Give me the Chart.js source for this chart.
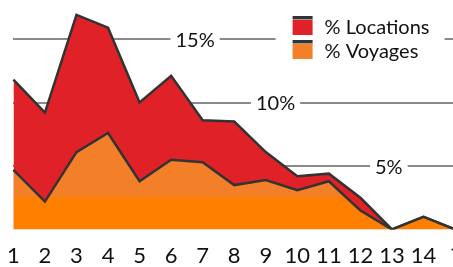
<!DOCTYPE html>
<html><head><meta charset="utf-8">
<script src="https://cdn.jsdelivr.net/npm/chart.js@4.4.1/dist/chart.umd.min.js"></script>
<style>html,body{margin:0;padding:0;overflow:hidden;background:#fff}#wrap{width:479px;height:267px;position:relative;margin-left:-6px}</style>
</head><body><div id="wrap"><canvas id="c"></canvas></div>
<script>
const categories = ['1','2','3','4','5','6','7','8','9','10','11','12','13','14','?'];
const locations = [11.8, 9.2, 16.9, 15.9, 10.0, 12.1, 8.6, 8.5, 6.1, 4.2, 4.4, 2.5, 0, 1.0, 0];
const voyages   = [4.7, 2.2, 6.1, 7.6, 3.8, 5.5, 5.3, 3.5, 3.9, 3.1, 3.8, 1.5, 0, 1.0, 0];
const gridValues = [5, 10, 15];
const gridLabels = ['5%', '10%', '15%'];
const seriesNames = ['% Locations', '% Voyages'];

const RED = '#E02228', ORANGE_HI = '#F37F28', ORANGE_LO = '#FF8000', LINE = '#333333';
const FONT = 'Lato, "Open Sans", sans-serif';

const gridLabelPlugin = {
  id: 'gridLabels',
  beforeDatasetsDraw(chart, args, opts) {
    const ctx = chart.ctx, ys = chart.scales.y, xs = chart.scales.x;
    const step = xs.getPixelForValue(1) - xs.getPixelForValue(0);
    ctx.save();
    ctx.font = '20px ' + FONT;
    ctx.textAlign = 'center';
    ctx.textBaseline = 'alphabetic';
    gridValues.forEach((v, i) => {
      const py = ys.getPixelForValue(v);
      const px = xs.getPixelForValue(0) + opts.at[i] * step;
      const w = ctx.measureText(gridLabels[i]).width;
      ctx.fillStyle = '#fff';
      ctx.fillRect(px - w / 2 - 5, py - 3, w + 10, 6);
      ctx.fillStyle = '#111';
      ctx.fillText(gridLabels[i], px, py + 7.5);
    });
    ctx.restore();
  }
};

const legendPlugin = {
  id: 'customLegend',
  afterDraw(chart) {
    const ctx = chart.ctx, xs = chart.scales.x, ca = chart.chartArea;
    const step = xs.getPixelForValue(1) - xs.getPixelForValue(0);
    const left = xs.getPixelForValue(0) + 8.85 * step;
    const top = ca.top + 15;
    ctx.save();
    ctx.fillStyle = '#fff';
    ctx.fillRect(left - 17, top - 6, 169, 54);
    const fills = [RED, ORANGE_HI];
    seriesNames.forEach((name, i) => {
      const by = top + i * 24;
      ctx.fillStyle = LINE;
      ctx.fillRect(left, by, 20, 3.5);
      ctx.fillStyle = fills[i];
      ctx.fillRect(left, by + 4, 20, 15);
      ctx.fillStyle = '#111';
      ctx.font = '20px ' + FONT;
      ctx.textBaseline = 'alphabetic';
      ctx.textAlign = 'left';
      ctx.fillText(name, left + 32, by + 17.5);
    });
    ctx.restore();
  }
};

new Chart(document.getElementById('c'), {
  type: 'line',
  data: {
    labels: categories,
    datasets: [
      { label: seriesNames[0], data: locations, fill: 'origin', backgroundColor: RED,
        borderColor: LINE, borderWidth: 2.5, pointRadius: 0, tension: 0, order: 2 },
      { label: seriesNames[1], data: voyages, fill: 'origin',
        backgroundColor: (c) => {
          const chart = c.chart, ca = chart.chartArea;
          if (!ca) return ORANGE_HI;
          const g = chart.ctx.createLinearGradient(0, ca.top, 0, ca.bottom);
          const s = (chart.scales.y.getPixelForValue(2.56) - ca.top) / (ca.bottom - ca.top);
          g.addColorStop(0, ORANGE_HI); g.addColorStop(s, ORANGE_HI);
          g.addColorStop(s, ORANGE_LO); g.addColorStop(1, ORANGE_LO);
          return g;
        },
        borderColor: LINE, borderWidth: 2.5, pointRadius: 0, tension: 0, order: 1 }
    ]
  },
  options: {
    responsive: true, maintainAspectRatio: false, animation: false,
    layout: { padding: { left: 7, right: 8.6, top: 1, bottom: 0 } },
    plugins: { legend: { display: false }, tooltip: { enabled: false },
      gridLabels: { at: [11.9, 8.31, 5.76] } },
    scales: {
      x: {
        grid: { display: false, drawTicks: false }, border: { display: false },
        ticks: { color: '#111', font: { family: FONT, size: 22 }, padding: 13, maxRotation: 0, autoSkip: false },
        afterFit(s) { s.height = 37.5; }
      },
      y: {
        min: 0, max: 18,
        afterBuildTicks(s) { s.ticks = gridValues.map(v => ({ value: v })); },
        ticks: { display: false },
        grid: { color: '#8a8a8a', lineWidth: 2, drawTicks: false },
        border: { display: false },
        afterFit(s) { s.width = 0; }
      }
    }
  },
  plugins: [gridLabelPlugin, legendPlugin]
});
</script>
</body></html>
